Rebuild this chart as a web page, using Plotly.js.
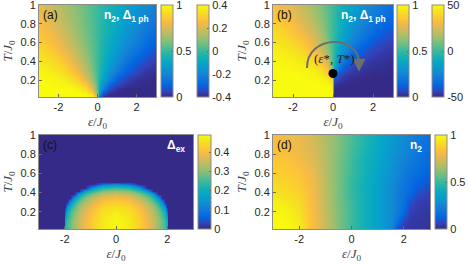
<!DOCTYPE html>
<html><head><meta charset="utf-8">
<script src="https://cdn.plot.ly/plotly-3.0.1.min.js"></script>
<style>html,body{margin:0;padding:0;background:#fff}#chart{width:469px;height:265px}</style>
</head><body><div id="chart"></div>
<script>
// ---------- data ----------
const epsTicks = [-2, 0, 2];
const epsTickText = ['-2', '0', '2'];
const tTicks = [0.2, 0.4, 0.6, 0.8, 1];
const tTickText = ['0.2', '0.4', '0.6', '0.8', '1'];

// panel (a): n2 / Delta_1ph
const epsA = [-3,-2.5,-2,-1.5,-1,-0.6,-0.3,-0.1,0,0.1,0.3,0.6,1,1.5,2,2.5,3];
const tempA = [0.02,0.05,0.1,0.2,0.3,0.4,0.5,0.6,0.7,0.8,0.9,1.0];
const n2A = [
  [1,1,1,1,1,1,1,0.88,0.5,0.12,0,0,0,0,0,0,0],
  [1,1,1,1,1,0.99,0.92,0.69,0.5,0.31,0.08,0.01,0,0,0,0,0],
  [1,1,1,1,0.98,0.92,0.77,0.60,0.5,0.40,0.23,0.08,0.02,0,0,0,0],
  [1.0,0.99,0.98,0.95,0.88,0.77,0.65,0.55,0.5,0.45,0.35,0.23,0.12,0.05,0.02,0.01,0.0],
  [0.98,0.97,0.93,0.88,0.79,0.69,0.60,0.53,0.5,0.47,0.40,0.31,0.21,0.12,0.07,0.03,0.02],
  [0.95,0.92,0.88,0.82,0.73,0.65,0.57,0.52,0.5,0.48,0.43,0.35,0.27,0.18,0.12,0.08,0.05],
  [0.92,0.88,0.83,0.77,0.69,0.62,0.56,0.52,0.5,0.48,0.44,0.38,0.31,0.23,0.17,0.12,0.08],
  [0.88,0.84,0.79,0.73,0.66,0.60,0.55,0.52,0.5,0.48,0.45,0.40,0.34,0.27,0.21,0.16,0.12],
  [0.85,0.81,0.76,0.70,0.64,0.58,0.54,0.51,0.5,0.49,0.46,0.42,0.36,0.30,0.24,0.19,0.15],
  [0.82,0.78,0.73,0.68,0.62,0.57,0.54,0.51,0.5,0.49,0.46,0.43,0.38,0.32,0.27,0.22,0.18],
  [0.79,0.75,0.71,0.66,0.61,0.57,0.53,0.51,0.5,0.49,0.47,0.43,0.39,0.34,0.29,0.25,0.21],
  [0.77,0.73,0.69,0.65,0.60,0.56,0.53,0.51,0.5,0.49,0.47,0.44,0.40,0.35,0.31,0.27,0.23]
];
const n2Range = [0, 1];
const delta1phRangeA = [-0.4, 0.4];
const delta1phTicksA = [-0.4, -0.2, 0, 0.2, 0.4];
const delta1phTickTextA = ['-0.4', '-0.2', '0', '0.2', '0.4'];

// panel (b)
const epsB = [-3,-2.5,-2,-1.5,-1,-0.6,-0.3,-0.05,0.05,0.3,0.6,1,1.5,2,2.5,3];
const tempB = [0.02,0.05,0.1,0.15,0.2,0.25,0.3,0.4,0.5,0.6,0.7,0.8,0.9,1.0];
const n2B = [
  [1,1,1,1,1,1,1,1,0,0,0,0,0,0,0,0],
  [1,1,1,1,1,1,1,1,0,0,0,0,0,0,0,0],
  [1,1,1,1,1,1,1,0.99,0.01,0,0,0,0,0,0,0],
  [1,1,1,1,1,1,0.99,0.97,0.03,0.01,0,0,0,0,0,0],
  [1,1,1,1,0.99,0.98,0.96,0.91,0.09,0.04,0.02,0.01,0,0,0,0],
  [1,1,1,0.99,0.98,0.96,0.92,0.80,0.20,0.08,0.04,0.02,0.01,0,0,0],
  [1,1,0.99,0.98,0.97,0.93,0.85,0.65,0.35,0.15,0.07,0.04,0.02,0.01,0.01,0],
  [0.99,0.98,0.97,0.95,0.91,0.83,0.73,0.54,0.46,0.27,0.17,0.09,0.05,0.03,0.02,0.01],
  [0.97,0.96,0.94,0.90,0.84,0.75,0.65,0.53,0.47,0.35,0.25,0.16,0.10,0.06,0.04,0.03],
  [0.95,0.93,0.90,0.85,0.78,0.69,0.61,0.52,0.48,0.39,0.31,0.22,0.15,0.10,0.07,0.05],
  [0.92,0.89,0.85,0.80,0.73,0.66,0.58,0.51,0.49,0.42,0.34,0.27,0.20,0.15,0.11,0.08],
  [0.88,0.85,0.82,0.76,0.70,0.63,0.57,0.51,0.49,0.43,0.37,0.30,0.24,0.18,0.15,0.12],
  [0.85,0.82,0.78,0.73,0.67,0.61,0.56,0.51,0.49,0.44,0.39,0.33,0.27,0.22,0.18,0.15],
  [0.83,0.80,0.76,0.71,0.65,0.60,0.55,0.51,0.49,0.45,0.40,0.35,0.29,0.24,0.20,0.17]
];
const delta1phRangeB = [-50, 50];
const delta1phTicksB = [-50, 0, 50];
const delta1phTickTextB = ['-50', '0', '50'];
const critEps = [0];
const critT = [0.27];

// panel (c): Delta_ex
const epsC = [-3,-2.03,-1.97,-1.9,-1.8,-1.65,-1.45,-1.2,-0.9,-0.5,0,0.5,0.9,1.2,1.45,1.65,1.8,1.9,1.97,2.03,3];
const tempC = [0.02,0.1,0.2,0.25,0.3,0.34,0.38,0.42,0.45,0.47,0.49,0.51,1.0];
const deltaExC = [
  [0,0,0.21,0.25,0.28,0.315,0.355,0.39,0.43,0.468,0.485,0.468,0.43,0.39,0.355,0.315,0.28,0.25,0.21,0,0],
  [0,0,0.20,0.245,0.277,0.315,0.355,0.39,0.43,0.468,0.485,0.468,0.43,0.39,0.355,0.315,0.277,0.245,0.20,0,0],
  [0,0,0.08,0.20,0.246,0.291,0.336,0.375,0.415,0.454,0.471,0.454,0.415,0.375,0.336,0.291,0.246,0.20,0.08,0,0],
  [0,0,0,0.134,0.207,0.265,0.316,0.357,0.40,0.439,0.456,0.439,0.40,0.357,0.316,0.265,0.207,0.134,0,0,0],
  [0,0,0,0,0.129,0.22,0.28,0.328,0.374,0.415,0.432,0.415,0.374,0.328,0.28,0.22,0.129,0,0,0,0],
  [0,0,0,0,0,0.158,0.238,0.294,0.342,0.385,0.403,0.385,0.342,0.294,0.238,0.158,0,0,0,0,0],
  [0,0,0,0,0,0,0.171,0.246,0.301,0.346,0.364,0.346,0.301,0.246,0.171,0,0,0,0,0,0],
  [0,0,0,0,0,0,0,0.168,0.239,0.292,0.31,0.292,0.239,0.168,0,0,0,0,0,0,0],
  [0,0,0,0,0,0,0,0,0.168,0.234,0.252,0.234,0.168,0,0,0,0,0,0,0,0],
  [0,0,0,0,0,0,0,0,0.077,0.178,0.199,0.178,0.077,0,0,0,0,0,0,0,0],
  [0,0,0,0,0,0,0,0,0,0.08,0.118,0.08,0,0,0,0,0,0,0,0,0],
  [0,0,0,0,0,0,0,0,0,0,0,0,0,0,0,0,0,0,0,0,0],
  [0,0,0,0,0,0,0,0,0,0,0,0,0,0,0,0,0,0,0,0,0]
];
const deltaExRange = [0, 0.49];
const deltaExTicks = [0, 0.1, 0.2, 0.3, 0.4];
const deltaExTickText = ['0', '0.1', '0.2', '0.3', '0.4'];

// panel (d): n2
const epsD = [-3,-2.5,-2,-1.5,-1,-0.5,0,0.5,1,1.5,1.75,2,2.25,2.5,3];
const tempD = [0.02,0.1,0.2,0.3,0.4,0.5,0.6,0.7,0.8,0.9,1.0];
const n2D = [
  [1.00,1.00,0.96,0.82,0.72,0.60,0.50,0.42,0.35,0.27,0.08,0.04,0.03,0.03,0.02],
  [1.00,0.99,0.95,0.82,0.72,0.60,0.50,0.42,0.35,0.27,0.18,0.06,0.04,0.03,0.03],
  [0.99,0.98,0.93,0.82,0.71,0.60,0.50,0.42,0.35,0.27,0.22,0.14,0.05,0.04,0.03],
  [0.97,0.95,0.91,0.81,0.71,0.59,0.50,0.42,0.35,0.27,0.22,0.17,0.09,0.05,0.04],
  [0.93,0.92,0.89,0.81,0.70,0.59,0.49,0.42,0.35,0.27,0.22,0.18,0.14,0.09,0.05],
  [0.90,0.89,0.86,0.80,0.70,0.59,0.49,0.42,0.35,0.28,0.23,0.19,0.16,0.13,0.09],
  [0.88,0.87,0.84,0.79,0.69,0.59,0.50,0.43,0.36,0.29,0.25,0.21,0.18,0.16,0.12],
  [0.86,0.85,0.82,0.77,0.69,0.59,0.50,0.43,0.37,0.30,0.26,0.23,0.20,0.18,0.14],
  [0.84,0.83,0.80,0.76,0.68,0.60,0.51,0.44,0.38,0.31,0.28,0.25,0.22,0.19,0.15],
  [0.83,0.81,0.79,0.75,0.68,0.60,0.52,0.45,0.39,0.32,0.29,0.26,0.23,0.20,0.16],
  [0.82,0.80,0.78,0.74,0.68,0.60,0.52,0.46,0.40,0.33,0.30,0.27,0.24,0.21,0.17]
];
const n2Ticks = [0, 0.5, 1];
const n2TickText = ['0', '0.5', '1'];

// ---------- styling ----------
const parulaColors = ['#352a87','#3243ba','#0363e1','#0d75dc','#1485d4','#0998d1','#06a7c6','#15b1b4',
  '#38b99e','#65be86','#92bf73','#b7bd64','#d9ba56','#f8bb44','#fcce2e','#f5e41d','#f9fb0e'];
const parula = parulaColors.map((c, i) => [i / (parulaColors.length - 1), c]);

const tickFont = {family: 'Liberation Sans, Arial, sans-serif', size: 11, color: '#262626'};
const titleFont = {family: 'Liberation Serif, Times New Roman, serif', size: 13, color: '#404040'};
const frame = '#8c8c8c';

function xAxis(domain, anchor) {
  return {domain: domain, anchor: anchor, range: [-3, 3], tickvals: epsTicks, ticktext: epsTickText,
    ticks: 'inside', ticklen: 3, tickcolor: '#666', showline: true, mirror: true, linecolor: frame,
    linewidth: 1, zeroline: false, showgrid: false, tickfont: tickFont, ticklabeloverflow: 'allow',
    title: {text: '<i>ε</i>/<i>J</i><sub>0</sub>', font: titleFont, standoff: 4}};
}
function yAxis(domain, anchor) {
  return {domain: domain, anchor: anchor, range: [0.02, 1], tickvals: tTicks, ticktext: tTickText,
    ticks: 'inside', ticklen: 3, tickcolor: '#666', showline: true, mirror: true, linecolor: frame,
    linewidth: 1, zeroline: false, showgrid: false, tickfont: tickFont, ticklabeloverflow: 'allow',
    title: {text: '<i>T</i>/<i>J</i><sub>0</sub>', font: titleFont, standoff: 4}};
}
function cbar(x, yc, len, vals, text) {
  return {x: x, xanchor: 'left', xref: 'paper', y: yc, yanchor: 'middle', yref: 'paper',
    len: len, lenmode: 'fraction', thickness: 12, thicknessmode: 'pixels', xpad: 0, ypad: 0,
    outlinewidth: 1, outlinecolor: frame, ticks: 'inside', ticklen: 2, tickcolor: '#666',
    tickvals: vals, ticktext: text, tickfont: tickFont, ticklabelpad: 3, ticklabeloverflow: 'allow'};
}

const W = 469, H = 265;
const px = (a, b) => [a / W, b / W];
const py = (top, bot) => [1 - bot / H, 1 - top / H];
const topRow = py(5, 97), botRow = py(135, 229);
const topC = (topRow[0] + topRow[1]) / 2, topL = topRow[1] - topRow[0];
const botC = (botRow[0] + botRow[1]) / 2, botL = botRow[1] - botRow[0];

const traces = [
  {type: 'heatmap', x: epsA, y: tempA, z: n2A, zmin: n2Range[0], zmax: n2Range[1], zsmooth: 'best',
   colorscale: parula, xaxis: 'x', yaxis: 'y', hoverinfo: 'skip',
   colorbar: cbar(161 / W, topC, topL, n2Ticks, n2TickText)},
  {type: 'scatter', mode: 'markers', x: [epsA[0], epsA[0]], y: [tempA[0], tempA[0]], xaxis: 'x', yaxis: 'y',
   hoverinfo: 'skip', showlegend: false,
   marker: {opacity: 0, size: 1, color: delta1phRangeA, cmin: delta1phRangeA[0], cmax: delta1phRangeA[1],
     colorscale: parula, showscale: true,
     colorbar: cbar(197 / W, topC, topL, delta1phTicksA, delta1phTickTextA)}},
  {type: 'heatmap', x: epsB, y: tempB, z: n2B, zmin: n2Range[0], zmax: n2Range[1], zsmooth: 'best',
   colorscale: parula, xaxis: 'x2', yaxis: 'y2', hoverinfo: 'skip',
   colorbar: cbar(397 / W, topC, topL, n2Ticks, n2TickText)},
  {type: 'scatter', mode: 'markers', x: [epsB[0], epsB[0]], y: [tempB[0], tempB[0]], xaxis: 'x2', yaxis: 'y2',
   hoverinfo: 'skip', showlegend: false,
   marker: {opacity: 0, size: 1, color: delta1phRangeB, cmin: delta1phRangeB[0], cmax: delta1phRangeB[1],
     colorscale: parula, showscale: true,
     colorbar: cbar(432 / W, topC, topL, delta1phTicksB, delta1phTickTextB)}},
  {type: 'scatter', mode: 'markers', x: critEps, y: critT, xaxis: 'x2', yaxis: 'y2', hoverinfo: 'skip',
   showlegend: false, marker: {color: '#000', size: 9}},
  {type: 'heatmap', x: epsC, y: tempC, z: deltaExC, zmin: deltaExRange[0], zmax: deltaExRange[1], zsmooth: 'best',
   colorscale: parula, xaxis: 'x3', yaxis: 'y3', hoverinfo: 'skip',
   colorbar: Object.assign(cbar(198 / W, botC, botL, deltaExTicks, deltaExTickText), {thickness: 13})},
  {type: 'heatmap', x: epsD, y: tempD, z: n2D, zmin: n2Range[0], zmax: n2Range[1], zsmooth: 'best',
   colorscale: parula, xaxis: 'x4', yaxis: 'y4', hoverinfo: 'skip',
   colorbar: cbar(435 / W, botC, botL, n2Ticks, n2TickText)}
];

const labelFont = {family: 'Liberation Sans, Arial, sans-serif', size: 12, color: '#111'};
const whiteFont = {family: 'Liberation Sans, Arial, sans-serif', size: 12, color: '#fff', weight: 'bold'};
function corner(ax, txt, right, font) {
  return {xref: ax.x + ' domain', yref: ax.y + ' domain', x: right ? 0.96 : 0.015, y: 0.985,
    xanchor: right ? 'right' : 'left', yanchor: 'top', text: txt, showarrow: false, font: font};
}
const A = {x: 'x', y: 'y'}, B = {x: 'x2', y: 'y2'}, C = {x: 'x3', y: 'y3'}, D = {x: 'x4', y: 'y4'};

const layout = {
  width: W, height: H, margin: {l: 0, r: 0, t: 0, b: 0}, paper_bgcolor: '#fff', plot_bgcolor: '#fff',
  showlegend: false,
  xaxis: xAxis(px(39, 156), 'y'), yaxis: yAxis(topRow, 'x'),
  xaxis2: xAxis(px(273, 393), 'y2'), yaxis2: yAxis(topRow, 'x2'),
  xaxis3: xAxis(px(39, 193), 'y3'), yaxis3: yAxis(botRow, 'x3'),
  xaxis4: xAxis(px(273, 430), 'y4'), yaxis4: yAxis(botRow, 'x4'),
  shapes: [
    {type: 'path', xref: 'x2', yref: 'y2', path: 'M -1.3,0.33 C -1.3,0.69 1.3,0.69 1.3,0.38',
     line: {color: '#6e6e6e', width: 2}}
  ],
  annotations: [
    corner(A, '(a)', false, labelFont), corner(B, '(b)', false, labelFont),
    corner(C, '(c)', false, labelFont), corner(D, '(d)', false, labelFont),
    corner(A, 'n<sub>2</sub>, Δ<sub>1 ph</sub>', true, whiteFont),
    corner(B, 'n<sub>2</sub>, Δ<sub>1 ph</sub>', true, whiteFont),
    corner(C, 'Δ<sub>ex</sub>', true, whiteFont),
    corner(D, 'n<sub>2</sub>', true, whiteFont),
    {xref: 'x2', yref: 'y2', axref: 'x2', ayref: 'y2', x: 1.3, y: 0.29, ax: 1.3, ay: 0.39, text: '',
     showarrow: true, arrowhead: 2, arrowsize: 1.3, arrowwidth: 2, arrowcolor: '#6e6e6e'},
    {xref: 'x2', yref: 'y2', x: 0.05, y: 0.43, text: '(<i>ε</i>*, <i>T</i>*)',
     showarrow: false, font: {family: 'Liberation Serif, Times New Roman, serif', size: 13, color: '#222'}}
  ]
};

Plotly.newPlot('chart', traces, layout, {staticPlot: true, displayModeBar: false});
</script>
</body></html>
